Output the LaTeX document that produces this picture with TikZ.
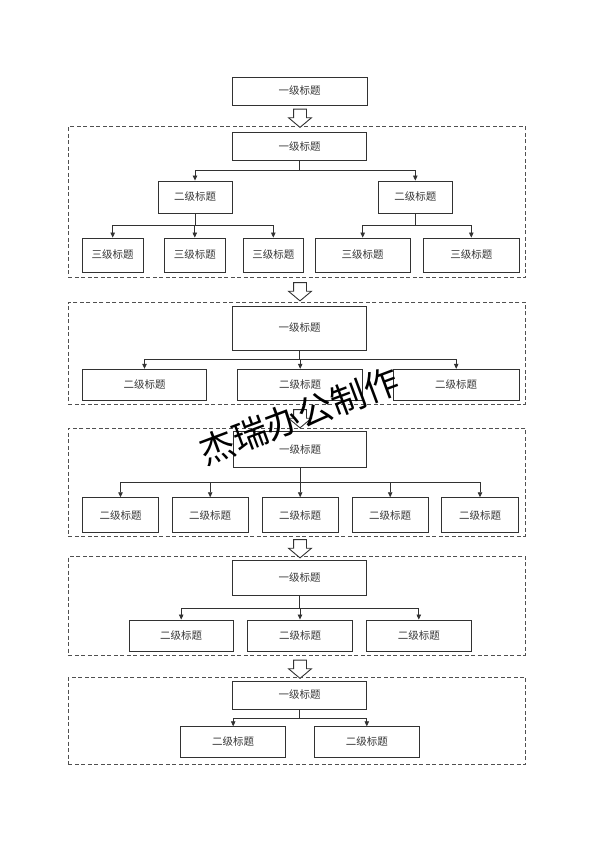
\documentclass[tikz,border=0pt]{standalone}
\usepackage{fontspec}
\newfontfamily\cjk{Noto Sans CJK SC}
\usetikzlibrary{positioning, arrows.meta, shapes.arrows, fit}
\definecolor{boxline}{RGB}{50,50,50}
\definecolor{boxtext}{RGB}{55,55,55}
\definecolor{frameline}{RGB}{80,80,80}

\begin{document}
\begin{tikzpicture}[
  x=1pt, y=-1pt,
  every node/.style={font=\cjk\fontsize{10.5}{12}\selectfont, text=boxtext},
  title/.style={rectangle, draw=boxline, line width=0.9pt, fill=white, inner sep=0pt, align=center},
  frame/.style={rectangle, draw=frameline, line width=0.9pt, dash pattern=on 4pt off 2.5pt, inner sep=0pt},
  link/.style={-{Triangle[length=5pt,width=4.5pt]}, line width=0.8pt, draw=boxline},
  hollow/.style={single arrow, draw=boxline, line width=0.9pt, fill=white, shape border rotate=270, minimum height=17pt, minimum width=22pt, inner sep=6pt, single arrow head extend=5pt, single arrow tip angle=100}
]
  \useasboundingbox (0,0) rectangle (594,841);

  % Head box
  \node[title, minimum width=135pt, minimum height=28pt] (head) at (299.5,91) {一级标题};

  % Dashed group frames
  \node[frame, fit={(68.3,126.7) (525.7,277.3)}] (grp1) {};
  \node[frame, fit={(68.3,302.3) (525.7,404)}] (grp2) {};
  \node[frame, fit={(68.3,428.3) (525.7,536)}] (grp3) {};
  \node[frame, fit={(68.3,556.7) (525.7,655)}] (grp4) {};
  \node[frame, fit={(68.3,677.3) (525.7,764.3)}] (grp5) {};

  % Hollow arrows between groups
  \node[hollow] (step1) at (300,115.5) {};
  \node[hollow] (step2) at (300,289) {};
  \node[hollow] (step3) at (300,416) {};
  \node[hollow] (step4) at (300,546) {};
  \node[hollow] (step5) at (300,666.5) {};

  % Group 1: three levels
  \node[title, minimum width=134pt, minimum height=28pt] (g1top) at (299.7,146.5) {一级标题};
  \node[title, minimum width=74pt, minimum height=32pt] (g1l) at (195,197) {二级标题};
  \node[title, minimum width=74pt, minimum height=32pt] (g1r) at (415.3,197) {二级标题};
  \node[title, minimum width=61pt, minimum height=34pt] (g1a) at (112.7,255) {三级标题};
  \node[title, minimum width=61pt, minimum height=34pt] (g1b) at (194.8,255) {三级标题};
  \node[title, minimum width=60pt, minimum height=34pt] (g1c) at (273.3,255) {三级标题};
  \node[title, minimum width=95pt, minimum height=34pt] (g1d) at (362.7,255) {三级标题};
  \node[title, minimum width=96pt, minimum height=34pt] (g1e) at (471.3,255) {三级标题};

  % Group 2
  \node[title, minimum width=134pt, minimum height=44pt] (g2top) at (299.7,328) {一级标题};
  \node[title, minimum width=124.5pt, minimum height=31.5pt] (g2a) at (144.5,385) {二级标题};
  \node[title, minimum width=125pt, minimum height=31.5pt] (g2b) at (300.2,385) {二级标题};
  \node[title, minimum width=125.5pt, minimum height=31.5pt] (g2c) at (456.2,385) {二级标题};

  % Group 3
  \node[title, minimum width=133.5pt, minimum height=36pt] (g3top) at (300,449.7) {一级标题};
  \node[title, minimum width=76.5pt, minimum height=35pt] (g3a) at (120.5,515.2) {二级标题};
  \node[title, minimum width=76.5pt, minimum height=35pt] (g3b) at (210.2,515.2) {二级标题};
  \node[title, minimum width=76.5pt, minimum height=35pt] (g3c) at (300.2,515.2) {二级标题};
  \node[title, minimum width=76.5pt, minimum height=35pt] (g3d) at (390.2,515.2) {二级标题};
  \node[title, minimum width=76.5pt, minimum height=35pt] (g3e) at (480,515.2) {二级标题};

  % Group 4
  \node[title, minimum width=134pt, minimum height=35pt] (g4top) at (299.7,577.5) {一级标题};
  \node[title, minimum width=104.5pt, minimum height=31pt] (g4a) at (181.2,635.5) {二级标题};
  \node[title, minimum width=104.5pt, minimum height=31pt] (g4b) at (300,635.5) {二级标题};
  \node[title, minimum width=104.5pt, minimum height=31pt] (g4c) at (418.8,635.5) {二级标题};

  % Group 5
  \node[title, minimum width=134pt, minimum height=28pt] (g5top) at (299.7,695) {一级标题};
  \node[title, minimum width=105pt, minimum height=30.5pt] (g5a) at (233.2,742) {二级标题};
  \node[title, minimum width=105pt, minimum height=30.5pt] (g5b) at (366.8,742) {二级标题};

  % Connectors
  \draw[link] (g1top.south) -- ++(0,9.3) -| (g1l.north);
  \draw[link] (g1top.south) -- ++(0,9.3) -| (g1r.north);
  \draw[link] (g1l.south) -- ++(0,12) -| (g1a.north);
  \draw[link] (g1l.south) -- ++(0,12) -| (g1b.north);
  \draw[link] (g1l.south) -- ++(0,12) -| (g1c.north);
  \draw[link] (g1r.south) -- ++(0,12) -| (g1d.north);
  \draw[link] (g1r.south) -- ++(0,12) -| (g1e.north);

  \draw[link] (g2top.south) -- ++(0,9) -| (g2a.north);
  \draw[link] (g2top.south) -- ++(0,9) -| (g2b.north);
  \draw[link] (g2top.south) -- ++(0,9) -| (g2c.north);

  \draw[link] (g3top.south) -- ++(0,14.6) -| (g3a.north);
  \draw[link] (g3top.south) -- ++(0,14.6) -| (g3b.north);
  \draw[link] (g3top.south) -- ++(0,14.6) -| (g3c.north);
  \draw[link] (g3top.south) -- ++(0,14.6) -| (g3d.north);
  \draw[link] (g3top.south) -- ++(0,14.6) -| (g3e.north);

  \draw[link] (g4top.south) -- ++(0,12.7) -| (g4a.north);
  \draw[link] (g4top.south) -- ++(0,12.7) -| (g4b.north);
  \draw[link] (g4top.south) -- ++(0,12.7) -| (g4c.north);

  \draw[link] (g5top.south) -- ++(0,8.7) -| (g5a.north);
  \draw[link] (g5top.south) -- ++(0,8.7) -| (g5b.north);

  % Watermark
  \node[rotate=20.5, font=\cjk\fontsize{35}{40}\selectfont, text=black, inner sep=0pt] (mark) at (299,416) {杰瑞办公制作};

\end{tikzpicture}
\end{document}
